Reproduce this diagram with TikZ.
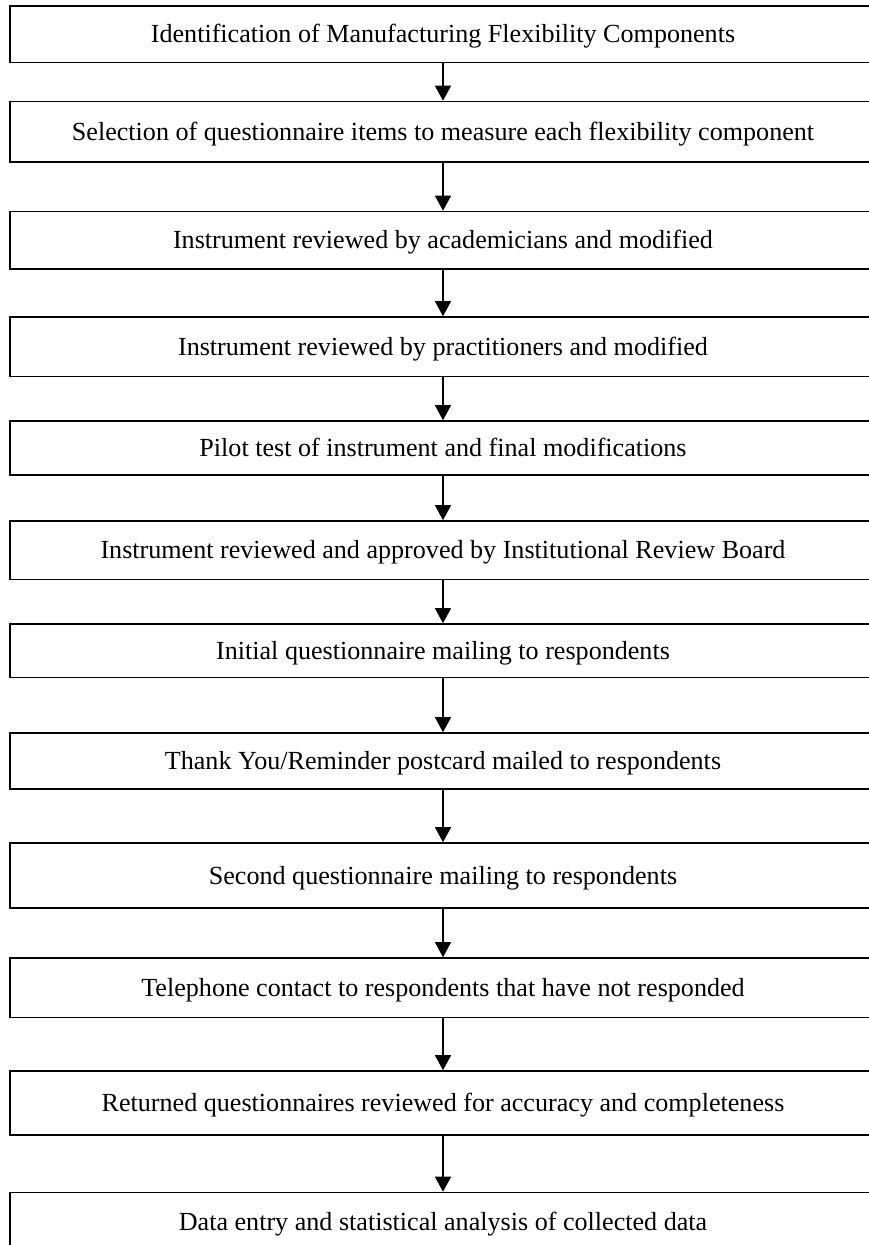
\documentclass[tikz,border=0pt]{standalone}
\usepackage{fontspec}
\setmainfont{Liberation Serif}
\usetikzlibrary{arrows.meta}

\tikzset{
  stepbox/.style={draw=black, line width=1.6pt, rectangle, minimum width=866pt,
    inner sep=0pt, font=\fontsize{26.1pt}{30pt}\selectfont,
    text height=17.3pt, text depth=0pt, anchor=center},
  flow/.style={line width=1.4pt, -{Triangle[width=16pt,length=15pt]}}
}

\begin{document}
\begin{tikzpicture}[x=1pt,y=-1pt]
  \useasboundingbox (0,0) rectangle (868,1245);
  \fill[white] (0,0) rectangle (868,1245);

  \node[stepbox, minimum height=56.5pt] (b1)  at (443,34.25)  {Identification of Manufacturing Flexibility Components};
  \node[stepbox, minimum height=60.5pt] (b2)  at (443,131.75) {Selection of questionnaire items to measure each flexibility component};
  \node[stepbox, minimum height=57.5pt] (b3)  at (443,240.25) {Instrument reviewed by academicians and modified};
  \node[stepbox, minimum height=59.5pt] (b4)  at (443,346.75) {Instrument reviewed by practitioners and modified};
  \node[stepbox, minimum height=54pt]   (b5)  at (443,448)    {Pilot test of instrument and final modifications};
  \node[stepbox, minimum height=58.5pt] (b6)  at (443,550.25) {Instrument reviewed and approved by Institutional Review Board};
  \node[stepbox, minimum height=53.5pt] (b7)  at (443,650.75) {Initial questionnaire mailing to respondents};
  \node[stepbox, minimum height=56pt]   (b8)  at (443,761)    {Thank You/Reminder postcard mailed to respondents};
  \node[stepbox, minimum height=65pt]   (b9)  at (443,875.5)  {Second questionnaire mailing to respondents};
  \node[stepbox, minimum height=59.5pt] (b10) at (443,987.75) {Telephone contact to respondents that have not responded};
  \node[stepbox, minimum height=64pt]   (b11) at (443,1103)   {Returned questionnaires reviewed for accuracy and completeness};
  \node[stepbox, minimum height=58pt]   (b12) at (443,1221.5) {Data entry and statistical analysis of collected data};

  \foreach \a/\b in {b1/b2,b2/b3,b3/b4,b4/b5,b5/b6,b6/b7,b7/b8,b8/b9,b9/b10,b10/b11,b11/b12}
    \draw[flow] (\a.south) -- (\b.north);
\end{tikzpicture}
\end{document}
